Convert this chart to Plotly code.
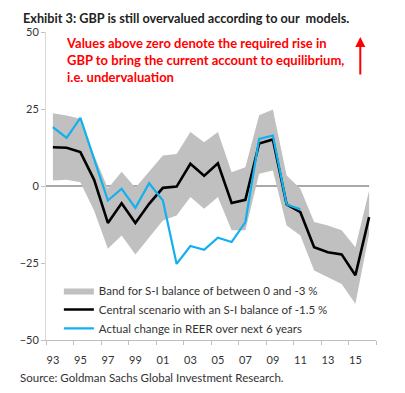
import plotly.graph_objects as go

years = list(range(1993, 2017))
central = [12.6, 12.4, 11.0, 2.0, -12.0, -5.6, -12.0, -5.8, -0.6, -0.2, 7.2, 3.3, 7.4, -5.5, -4.5,
           13.8, 15.1, -6.0, -8.5, -19.9, -21.5, -22.2, -29.0, -10.1]
actual_years = list(range(1993, 2012))
actual = [19.1, 15.6, 22.1, 8.8, -4.7, -0.9, -7.1, 0.9, -4.7, -25.3, -19.5, -20.7, -16.8, -18.2,
          -11.7, 15.3, 16.4, -6.0, -7.6]
band_upper = [23.6, 22.9, 21.8, 10.0, -0.8, 4.6, -0.6, 4.5, 9.9, 10.4, 17.5, 14.2, 17.5, 4.5, 6.1,
              23.0, 24.8, 3.4, -0.9, -11.7, -12.8, -14.4, -19.9, -1.5]
band_lower = [1.8, 2.0, 1.2, -8.0, -20.4, -16.1, -22.2, -16.6, -11.2, -9.6, -3.6, -7.4, -3.6, -14.4,
              -14.4, 4.0, 5.0, -12.8, -16.1, -27.4, -29.6, -31.8, -38.2, -15.5]
tick_years = list(range(1993, 2016, 2))
tick_labels = [str(y)[2:] for y in tick_years]
y_ticks = [50, 25, 0, -25, -50]

FONT = "Lato"
TXT = "#333333"

fig = go.Figure()
fig.add_trace(go.Scatter(x=years, y=band_lower, mode="lines", line=dict(width=0, color="#c0c0c0"),
                         showlegend=False, hoverinfo="skip"))
fig.add_trace(go.Scatter(x=years, y=band_upper, mode="lines", line=dict(width=0, color="#c0c0c0"),
                         fill="tonexty", fillcolor="#c0c0c0",
                         name="Band for S-I balance of between 0 and -3 %"))
fig.add_trace(go.Scatter(x=years, y=central, mode="lines", line=dict(width=2.6, color="#000000"),
                         name="Central scenario with an S-I balance of -1.5 %"))
fig.add_trace(go.Scatter(x=actual_years, y=actual, mode="lines", line=dict(width=2.2, color="#12b0ee"),
                         name="Actual change in REER over next 6 years"))

# zero line
fig.add_shape(type="line", xref="x", yref="y", x0=1992.5, x1=2016, y0=0, y1=0,
              line=dict(color="#555555", width=1), layer="below")

fig.update_layout(
    width=397, height=385,
    margin=dict(l=32, r=29, t=24, b=53),
    paper_bgcolor="white", plot_bgcolor="white",
    font=dict(family=FONT, size=10, color=TXT),
    showlegend=True,
    legend=dict(x=0.039, y=0.208, xanchor="left", yanchor="top", bgcolor="rgba(0,0,0,0)",
                traceorder="normal",
                font=dict(family=FONT, size=11.5, color=TXT), itemwidth=30, tracegroupgap=0),
    xaxis=dict(range=[1992.5, 2016.5], tickmode="array", tickvals=tick_years, ticktext=tick_labels,
               showgrid=False, zeroline=False, showline=True, linecolor="#bfbfbf", linewidth=1,
               ticks="", ticklabelstandoff=10, tickfont=dict(family=FONT, size=11, color=TXT),
               minor=dict(ticks="outside", tick0=1992.5, dtick=2, ticklen=4, tickcolor="#bfbfbf",
                          showgrid=False)),
    yaxis=dict(range=[-50, 50], tickmode="array", tickvals=y_ticks, showgrid=False, zeroline=False,
               showline=True, linecolor="#d9d9d9", linewidth=1, ticks="outside", ticklen=4,
               tickcolor="#bfbfbf", tickfont=dict(family=FONT, size=11, color=TXT)),
)

fig.add_annotation(text="<b>Exhibit 3: GBP is still overvalued according to our  models.</b>",
                   xref="paper", yref="paper", x=-25/336, y=(340 - 8) / 308, xanchor="left", yanchor="top",
                   showarrow=False, font=dict(family=FONT, size=12.7, color="#222222"))
fig.add_annotation(text="<b>Values above zero denote the required rise in<br>GBP to bring the current account to equilibrium,<br>i.e. undervaluation</b>",
                   xref="paper", yref="paper", x=18/336, y=(340 - 33) / 308, xanchor="left", yanchor="top",
                   align="left", showarrow=False, font=dict(family=FONT, size=13, color="#ff0000"))
fig.add_annotation(text="Source: Goldman Sachs Global Investment Research.",
                   xref="paper", yref="paper", x=-29/336, y=-(369 - 340) / 308, xanchor="left", yanchor="top",
                   showarrow=False, font=dict(family=FONT, size=11.5, color="#333333"))
# red arrow
fig.add_annotation(x=(360 - 40) / 336, y=(340 - 37) / 308, ax=0, ay=39,
                   xref="paper", yref="paper", axref="pixel", ayref="pixel", text="",
                   showarrow=True, arrowhead=2, arrowsize=1, arrowwidth=2, arrowcolor="#ff0000")

fig.write_html("out.html")
